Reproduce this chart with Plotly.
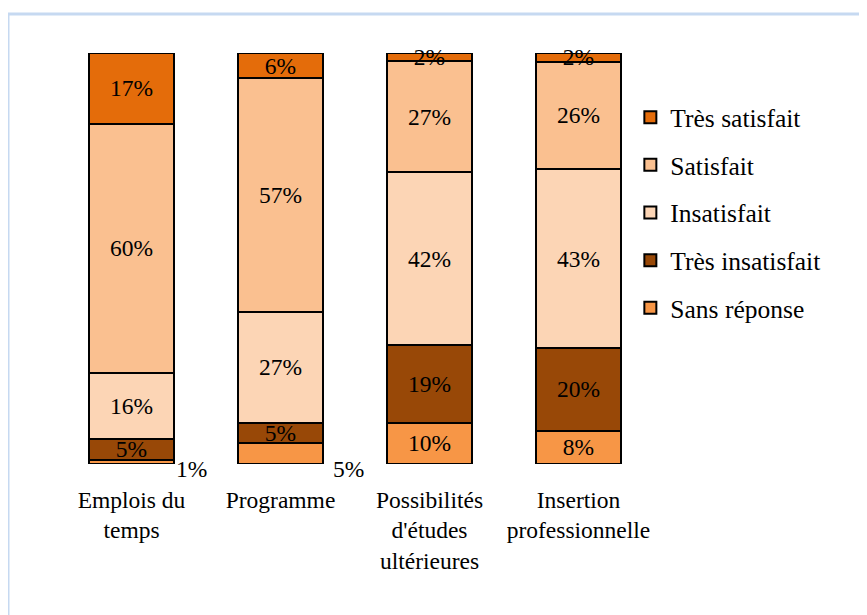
import plotly.graph_objects as go

categories = ["Emplois du<br>temps", "Programme", "Possibilités<br>d'études<br>ultérieures",
              "Insertion<br>professionnelle"]

# bottom to top of each stack
sans_reponse = [1, 5, 10, 8]
tres_insatisfait = [5, 5, 19, 20]
insatisfait = [16, 27, 42, 43]
satisfait = [60, 57, 27, 26]
tres_satisfait = [17, 6, 2, 2]

series = [
    ("Sans réponse", sans_reponse, "#F79646"),
    ("Très insatisfait", tres_insatisfait, "#984807"),
    ("Insatisfait", insatisfait, "#FCD5B5"),
    ("Satisfait", satisfait, "#FAC090"),
    ("Très satisfait", tres_satisfait, "#E46C0A"),
]

FONT = "Liberation Serif, Times New Roman, serif"

fig = go.Figure()
for i, (name, values, color) in enumerate(series):
    labels = [f"{v}%" for v in values]
    if name == "Sans réponse":
        # the two thin ones are labelled outside the bar, see annotations below
        labels = ["", "", labels[2], labels[3]]
    fig.add_trace(go.Bar(
        x=categories,
        y=values,
        name=name,
        legendgroup=name,
        legendrank=len(series) - i,
        text=labels,
        textposition="inside",
        insidetextanchor="middle",
        constraintext="none",
        textangle=0,
        textfont=dict(family=FONT, size=23.5, color="black"),
        marker=dict(color=color, line=dict(color="black", width=2)),
        cliponaxis=False,
        width=0.57,
    ))

# outside labels for the thin "Sans réponse" segments
for i in (0, 1):
    fig.add_annotation(
        x=categories[i], y=0, text=f"{sans_reponse[i]}%",
        xshift=60 if i == 0 else 68, yshift=-5, showarrow=False,
        font=dict(family=FONT, size=23.5, color="black"),
    )

fig.update_layout(
    width=867,
    height=615,
    barmode="stack",
    barnorm="percent",
    plot_bgcolor="white",
    paper_bgcolor="white",
    margin=dict(l=49, r=222, t=45, b=159),
    font=dict(family=FONT, size=23.5, color="black"),
    showlegend=True,
    legend=dict(
        x=0.962, y=0.9, xanchor="left", yanchor="top",
        traceorder="grouped",
        tracegroupgap=11.5,
        font=dict(family=FONT, size=25.5, color="black"),
        itemwidth=30,
        bgcolor="rgba(0,0,0,0)",
    ),
    shapes=[dict(
        type="rect", xref="paper", yref="paper",
        x0=-0.0822, x1=2, y0=-2, y1=1.095,
        line=dict(color="#C6D9F1", width=3),
        fillcolor="rgba(0,0,0,0)", layer="below",
    )],
)

fig.update_xaxes(showline=False, showgrid=False, ticks="", ticklabelstandoff=19,
                 tickfont=dict(family=FONT, size=23.5, color="black"))
# a hair above 100 so the rounded-up top segment keeps its label
fig.update_yaxes(range=[0, 100.05], visible=False, showgrid=False, zeroline=False)

fig.write_html("out.html")
